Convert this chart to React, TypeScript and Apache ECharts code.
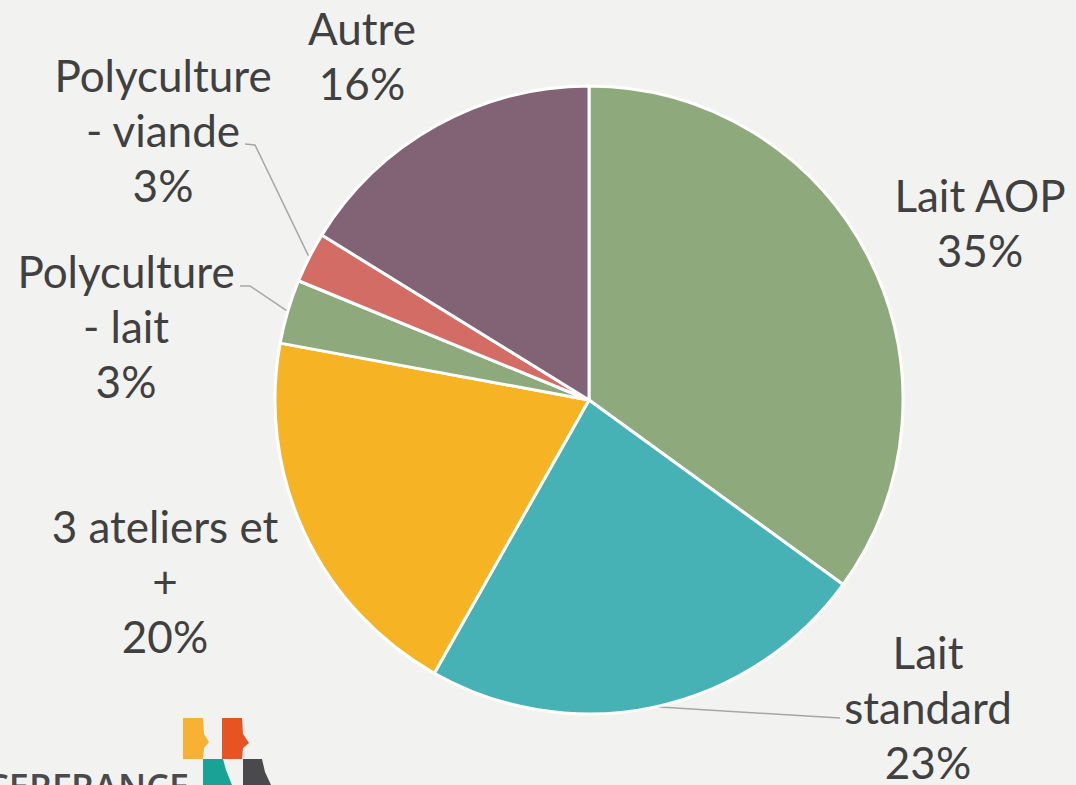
import React, { useEffect, useRef } from 'react';
import * as echarts from 'echarts';

const categories = ['Lait AOP', 'Lait standard', '3 ateliers et +', 'Polyculture - lait', 'Polyculture - viande', 'Autre'];
const labelNames = ['Lait AOP', 'Lait\nstandard', '3 ateliers et\n+', 'Polyculture\n- lait', 'Polyculture\n- viande', 'Autre'];
const values = [35.0, 23.2, 19.7, 3.3, 2.6, 16.2];
const colors = ['#8EAA7D', '#47B2B6', '#F6B324', '#8EAA7D', '#D46C66', '#816375'];

// label layout (styling only)
const labelAnchors: number[][] = [[980, 222], [928, 707], [165, 581], [126, 326], [163, 130], [362, 55]];
const leaderTails: (number[][] | null)[] = [
  null,
  [[840, 718]],
  null,
  [[250, 286], [240, 286]],
  [[255, 145], [245, 144]],
  null,
];

const PIE_CENTER = [589, 400];
const PIE_RADIUS = 314;

export default function App() {
  const ref = useRef<HTMLDivElement>(null);
  useEffect(() => {
    if (!ref.current) return;
    const chart = echarts.init(ref.current, undefined, { renderer: 'svg' });
    const total = values.reduce((a, b) => a + b, 0);
    const cumul: number[] = [];
    values.reduce((acc, v, i) => { cumul[i] = acc; return acc + v; }, 0);
    chart.setOption({
      animation: false,
      backgroundColor: '#F2F2F0',
      graphic: [
        { type: 'polygon', shape: { points: [[183, 718], [203, 718], [204, 734], [209, 742], [204, 748], [203, 759], [183, 759]] }, style: { fill: '#F8B133' }, silent: true },
        { type: 'polygon', shape: { points: [[222, 718], [242, 718], [243, 734], [249, 743], [243, 748], [242, 759], [222, 759]] }, style: { fill: '#E85322' }, silent: true },
        { type: 'polygon', shape: { points: [[203, 759], [223, 759], [226, 770], [232, 785], [203, 785]] }, style: { fill: '#19A396' }, silent: true },
        { type: 'polygon', shape: { points: [[243, 759], [262, 759], [265, 772], [271, 785], [243, 785]] }, style: { fill: '#4A4A4D' }, silent: true },
        { type: 'text', x: 189, y: 768, silent: true, style: { text: 'CERFRANCE', fill: '#4A4A4D', font: '600 36px "Open Sans"', textAlign: 'right', textVerticalAlign: 'top' } },
      ],
      series: [
        {
          type: 'pie',
          center: PIE_CENTER,
          radius: PIE_RADIUS,
          startAngle: 90,
          clockwise: true,
          avoidLabelOverlap: false,
          silent: true,
          emphasis: { disabled: true },
          itemStyle: { borderColor: '#FFFFFF', borderWidth: 3 },
          label: {
            show: true,
            position: 'outside',
            fontFamily: 'Lato',
            fontSize: 44,
            lineHeight: 55,
            color: '#404040',
            align: 'center',
            formatter: (p: any) => `${labelNames[p.dataIndex]}\n${Math.round(p.percent)}%`,
          },
          labelLine: { show: true, length: 10, length2: 10, lineStyle: { color: '#A6A6A6', width: 1.5 } },
          labelLayout: (params: any) => {
            const i = params.dataIndex;
            const [x, y] = labelAnchors[i];
            const res: any = { x, y, align: 'center', verticalAlign: 'middle' };
            const tail = leaderTails[i];
            if (tail) {
              let start: number[];
              if (params.labelLinePoints && params.labelLinePoints[0]) {
                start = [params.labelLinePoints[0][0], params.labelLinePoints[0][1]];
              } else {
                const a = ((cumul[i] + values[i] / 2) / total) * Math.PI * 2;
                start = [PIE_CENTER[0] + PIE_RADIUS * Math.sin(a), PIE_CENTER[1] - PIE_RADIUS * Math.cos(a)];
              }
              res.labelLinePoints = [start, ...tail];
            }
            return res;
          },
          data: categories.map((name, i) => ({
            name,
            value: values[i],
            itemStyle: { color: colors[i] },
            labelLine: { show: !!leaderTails[i] },
          })),
        },
      ],
    });
    return () => chart.dispose();
  }, []);
  return (
    <div
      ref={ref}
      style={{ position: 'fixed', left: 0, top: 0, width: 1076, height: 785, background: '#F2F2F0' }}
    />
  );
}
